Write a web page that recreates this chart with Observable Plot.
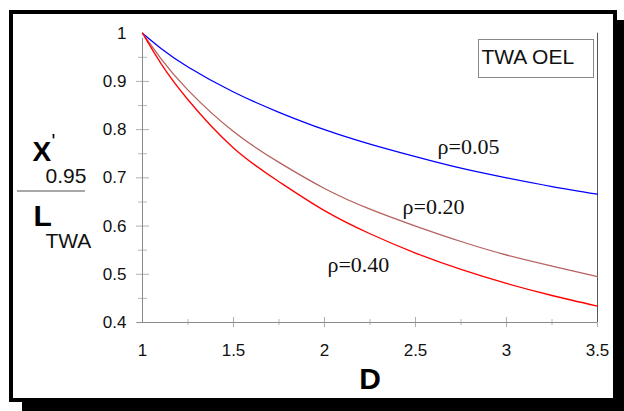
<!DOCTYPE html>
<html><head><meta charset="utf-8">
<script src="https://cdn.jsdelivr.net/npm/d3@7"></script>
<script src="https://cdn.jsdelivr.net/npm/@observablehq/plot@0.6"></script>
<style>
html,body{margin:0;padding:0;background:#fff;}
#wrap{position:relative;width:624px;height:411px;overflow:hidden;font-family:"Liberation Sans",Arial,sans-serif;}
#shadow{position:absolute;left:22px;top:20px;width:602px;height:391px;background:#000;}
#frame{position:absolute;left:9px;top:10px;width:600px;height:384px;border:4px solid #000;background:#fff;}
#chart{position:absolute;left:0;top:0;}
</style></head>
<body><div id="wrap"><div id="shadow"></div><div id="frame"></div><div id="chart"></div></div>
<script>
// Data
const D      = [1, 1.1, 1.25, 1.5, 1.75, 2, 2.25, 2.5, 2.75, 3, 3.25, 3.5];
const rho005 = [1, 0.969, 0.930, 0.878, 0.836, 0.800, 0.770, 0.744, 0.720, 0.700, 0.682, 0.666];
const rho020 = [1, 0.948, 0.882, 0.796, 0.732, 0.678, 0.635, 0.600, 0.568, 0.540, 0.517, 0.495];
const rho040 = [1, 0.938, 0.862, 0.762, 0.692, 0.632, 0.584, 0.544, 0.510, 0.481, 0.456, 0.434];
const seriesNames = ["ρ=0.05", "ρ=0.20", "ρ=0.40"];
const seriesColors = ["#0000ff", "#b5625f", "#ff0000"];
const xTicks = [1, 1.5, 2, 2.5, 3, 3.5];
const xMinor = [1.25, 1.75, 2.25, 2.75, 3.25];
const yTicks = [0.4, 0.5, 0.6, 0.7, 0.8, 0.9, 1];
const yMinor = [0.45, 0.55, 0.65, 0.75, 0.85, 0.95];
// label anchors (data units, baseline)
const labelD = [2.621, 2.429, 2.016];
const labelV = [0.750, 0.626, 0.505];

const seriesVals = [rho005, rho020, rho040];
const rows = [];
seriesNames.forEach((s, k) => D.forEach((d, i) => rows.push({D: d, v: seriesVals[k][i], s})));
const labels = seriesNames.map((s, k) => ({s, x: labelD[k], y: labelV[k]}));

const x0 = xTicks[0], x1 = xTicks[xTicks.length - 1];
const y0 = yTicks[0], y1 = yTicks[yTicks.length - 1];
const mL = 142, mT = 32.7, mR = 27, mB = 89;

const chart = Plot.plot({
  width: 624, height: 411,
  marginLeft: mL, marginRight: mR, marginTop: mT, marginBottom: mB,
  x: {domain: [x0, x1], axis: null},
  y: {domain: [y0, y1], axis: null},
  color: {domain: seriesNames, range: seriesColors},
  style: {background: "transparent", fontFamily: "'Liberation Sans', Arial, sans-serif", overflow: "visible"},
  marks: [
    // ticks
    Plot.ruleY(yTicks.slice(0, -1), {x1: x0, x2: x0, insetLeft: -6, insetRight: -7, stroke: "#b0b0b0"}),
    Plot.ruleY(yMinor, {x1: x0, x2: x0, insetLeft: -4, insetRight: -5, stroke: "#b8b8b8"}),
    Plot.ruleX(xTicks.slice(1), {y1: y0, y2: y0, insetTop: -5, insetBottom: -5, stroke: "#b0b0b0"}),
    Plot.ruleX(xMinor, {y1: y0, y2: y0, insetTop: -3, insetBottom: -3, stroke: "#b8b8b8"}),
    // axis lines
    Plot.ruleX([x0], {y1: y0, y2: y1, insetBottom: -5, stroke: "#8a8a8a"}),
    Plot.ruleY([y0], {x1: x0, x2: x1, insetLeft: -5, stroke: "#8a8a8a"}),
    Plot.ruleX([x1], {y1: y0, y2: y1, stroke: "#555"}),
    // tick labels
    Plot.text(yTicks, {x: x0, y: d => d, text: d => String(d), textAnchor: "end", dx: -16, fontSize: 17, fill: "#111"}),
    Plot.text(xTicks, {x: d => d, y: y0, text: d => String(d), lineAnchor: "bottom", dy: 33, fontSize: 17, fill: "#111"}),
    // curves
    Plot.line(rows, {x: "D", y: "v", z: "s", stroke: "s", strokeWidth: 1.3, curve: "natural"}),
    // curve labels
    Plot.text(labels, {x: "x", y: "y", text: "s", textAnchor: "start", lineAnchor: "bottom",
      fontFamily: "'Liberation Serif', 'Times New Roman', serif", fontSize: 22, fill: "#111"}),
    // axis titles
    Plot.text(["D"], {frameAnchor: "bottom", dy: 66, lineAnchor: "bottom", fontSize: 30, fontWeight: "bold", fill: "#000"}),
    Plot.text(["X"], {frameAnchor: "top-left", dx: 32 - mL, dy: 160 - mT, textAnchor: "start", lineAnchor: "bottom", fontSize: 28, fontWeight: "bold", fill: "#000"}),
    Plot.text(["'"], {frameAnchor: "top-left", dx: 51 - mL, dy: 147 - mT, textAnchor: "start", lineAnchor: "bottom", fontSize: 20, fill: "#000"}),
    Plot.text(["0.95"], {frameAnchor: "top-left", dx: 45 - mL, dy: 182 - mT, textAnchor: "start", lineAnchor: "bottom", fontSize: 21, fill: "#111"}),
    Plot.text(["L"], {frameAnchor: "top-left", dx: 33 - mL, dy: 225 - mT, textAnchor: "start", lineAnchor: "bottom", fontSize: 30, fontWeight: "bold", fill: "#000"}),
    Plot.text(["TWA"], {frameAnchor: "top-left", dx: 45 - mL, dy: 247 - mT, textAnchor: "start", lineAnchor: "bottom", fontSize: 21, fill: "#111"}),
    // legend label
    Plot.text(["TWA OEL"], {frameAnchor: "top-right", dx: 481 - (624 - mR), dy: 63 - mT, textAnchor: "start", lineAnchor: "bottom", fontSize: 21, fill: "#111"})
  ]
});

const svg = d3.select(chart);
svg.append("line").attr("x1", 17).attr("x2", 85).attr("y1", 191).attr("y2", 191)
  .attr("stroke", "#a8a8a8").attr("stroke-width", 2);
svg.append("rect").attr("x", 478.5).attr("y", 39.5).attr("width", 115).attr("height", 38)
  .attr("fill", "none").attr("stroke", "#888");

document.getElementById("chart").appendChild(chart);
</script>
</body></html>
